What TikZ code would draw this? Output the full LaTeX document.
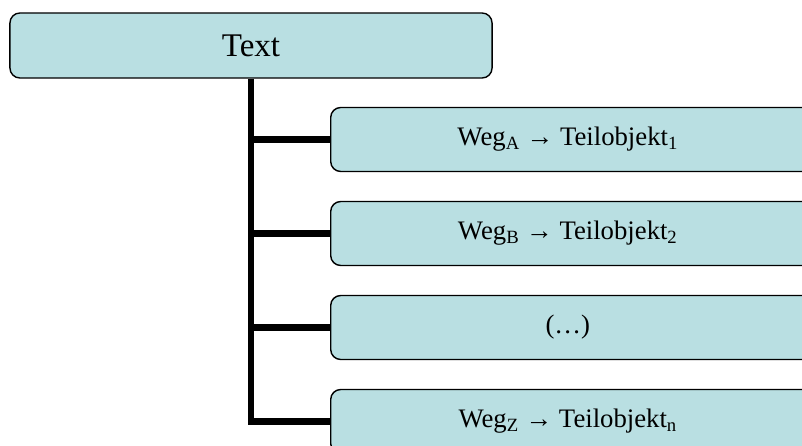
\documentclass[tikz,border=0pt]{standalone}
\usepackage{fontspec}
\setmainfont{Liberation Serif}
\definecolor{boxfill}{RGB}{185,223,226}

\begin{document}
\begin{tikzpicture}[x=0.025cm,y=-0.025cm,
	box/.style={draw,fill=boxfill,rounded corners=0.25cm,line width=1pt,inner sep=0pt},
	head/.style={box,minimum width=12.05cm,minimum height=1.625cm,font=\fontsize{23.5}{26}\selectfont},
	part/.style={box,anchor=west,minimum height=1.6cm,font=\fontsize{19}{22}\selectfont},
	link/.style={line width=4.3pt}]
	\useasboundingbox (0,0) rectangle (802,446);
	\clip (0,0) rectangle (802,446);
	\newcommand\parttext[1]{\makebox[11.85cm]{#1}\hspace*{2cm}}
	\node[head] (T) at (251,45.5) {Text};
	\node[part] (A) at (330,139.5) {\parttext{Weg\textsubscript{A} → Teilobjekt\textsubscript{1}}};
	\node[part] (B) at (330,233.5) {\parttext{Weg\textsubscript{B} → Teilobjekt\textsubscript{2}}};
	\node[part] (D) at (330,327.5) {\parttext{(…)}};
	\node[part] (Z) at (330,421.5) {\parttext{Weg\textsubscript{Z} → Teilobjekt\textsubscript{n}}};
	\draw[link] (T.south) -- (T.south |- Z.west) -- (Z.west);
	\foreach \n in {A,B,D}
		\draw[link] (T.south |- \n.west) -- (\n.west);
\end{tikzpicture}
\end{document}
